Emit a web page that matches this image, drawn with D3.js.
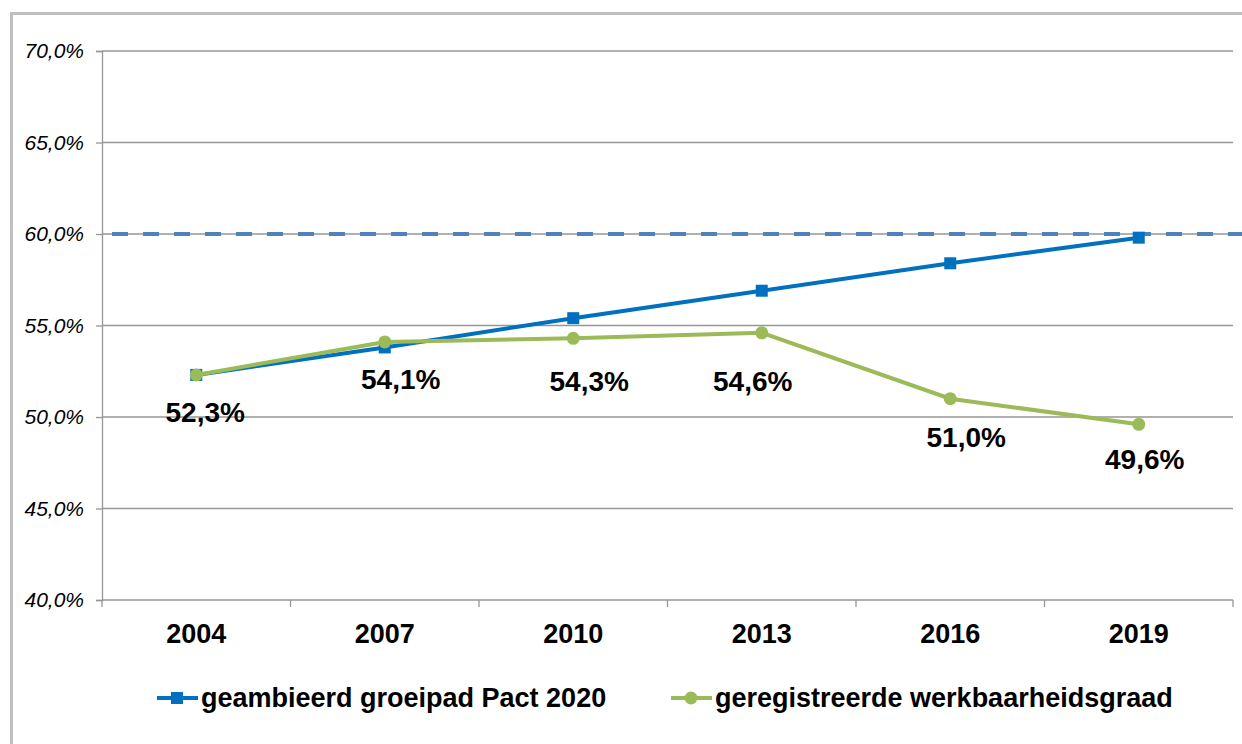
<!DOCTYPE html>
<html>
<head>
<meta charset="utf-8">
<script src="https://cdn.jsdelivr.net/npm/d3@7"></script>
<style>
  body { margin: 0; background: #fff; }
  svg text { font-family: "Liberation Sans", Arial, sans-serif; }
</style>
</head>
<body>
<svg id="chart" width="1242" height="744"></svg>
<script>
// chart data
const years = ["2004", "2007", "2010", "2013", "2016", "2019"];
const pactValues = [52.3, 53.8, 55.4, 56.9, 58.4, 59.8];
const werkValues = [52.3, 54.1, 54.3, 54.6, 51.0, 49.6];
const targetValue = 60;
const yTicks = [40, 45, 50, 55, 60, 65, 70];
const seriesNames = ["geambieerd groeipad Pact 2020", "geregistreerde werkbaarheidsgraad"];

// label nudges (px) like the dragged labels in the original
const labelDx = [9, 16, 16, -9, 16, 6];
const labelDy = [38, 38, 43, 49, 39, 35];

const blue = "#0070C0";
const green = "#9BBB59";
const dashBlue = "#4F81BD";

const svg = d3.select("#chart");
const margin = { left: 102, right: 1233, top: 51, bottom: 600 };

// outer frame of the chart
svg.append("rect")
    .attr("x", 11.5).attr("y", 13.5)
    .attr("width", 1260).attr("height", 760)
    .attr("fill", "none")
    .attr("stroke", "#bfbfbf")
    .attr("stroke-width", 3);

const x = d3.scaleBand()
    .domain(years)
    .range([margin.left, margin.right]);

const y = d3.scaleLinear()
    .domain([40, 70])
    .range([margin.bottom, margin.top]);

// gridlines
svg.append("g")
    .selectAll("line")
    .data(yTicks)
    .enter()
    .append("line")
    .attr("x1", margin.left)
    .attr("x2", margin.right)
    .attr("y1", d => y(d))
    .attr("y2", d => y(d))
    .attr("stroke", "#969696")
    .attr("stroke-width", 1.3);

// y axis
const yAxis = svg.append("g")
    .attr("transform", `translate(${margin.left},0)`)
    .call(d3.axisLeft(y)
        .tickValues(yTicks)
        .tickSize(6)
        .tickPadding(12)
        .tickFormat(d => d3.format(".1f")(d).replace(".", ",") + "%"));
yAxis.select(".domain").attr("stroke", "#969696").attr("stroke-width", 1.3);
yAxis.selectAll(".tick line").attr("stroke", "#969696").attr("stroke-width", 1.3);
yAxis.selectAll(".tick text")
    .attr("font-size", 21)
    .attr("font-style", "italic")
    .attr("fill", "#000");

// x axis with ticks between categories
const xAxis = svg.append("g")
    .attr("transform", `translate(0,${margin.bottom})`)
    .call(d3.axisBottom(x).tickSize(0).tickPadding(24));
xAxis.select(".domain").remove();
xAxis.selectAll(".tick text")
    .attr("font-size", 27)
    .attr("font-weight", "bold")
    .attr("fill", "#000");

svg.append("g")
    .selectAll("line")
    .data(years.concat(["end"]))
    .enter()
    .append("line")
    .attr("x1", (d, i) => margin.left + i * x.step())
    .attr("x2", (d, i) => margin.left + i * x.step())
    .attr("y1", margin.bottom)
    .attr("y2", margin.bottom + 7)
    .attr("stroke", "#969696")
    .attr("stroke-width", 1.3);

// target 60% dashed line
svg.append("line")
    .attr("x1", margin.left)
    .attr("x2", 1242)
    .attr("y1", y(targetValue))
    .attr("y2", y(targetValue))
    .attr("stroke", dashBlue)
    .attr("stroke-width", 4)
    .attr("stroke-dasharray", "16,15")
    .attr("stroke-dashoffset", -10);

const cx = d => x(d) + x.bandwidth() / 2;

const line = d3.line()
    .x((d, i) => cx(years[i]))
    .y(d => y(d));

// blue series
svg.append("path")
    .datum(pactValues)
    .attr("d", line)
    .attr("fill", "none")
    .attr("stroke", blue)
    .attr("stroke-width", 4);

svg.append("g")
    .selectAll("rect")
    .data(pactValues)
    .enter()
    .append("rect")
    .attr("x", (d, i) => cx(years[i]) - 6)
    .attr("y", d => y(d) - 6)
    .attr("width", 12)
    .attr("height", 12)
    .attr("fill", blue);

// green series
svg.append("path")
    .datum(werkValues)
    .attr("d", line)
    .attr("fill", "none")
    .attr("stroke", green)
    .attr("stroke-width", 4);

svg.append("g")
    .selectAll("circle")
    .data(werkValues)
    .enter()
    .append("circle")
    .attr("cx", (d, i) => cx(years[i]))
    .attr("cy", d => y(d))
    .attr("r", 6.5)
    .attr("fill", green);

// value labels
svg.append("g")
    .selectAll("text")
    .data(werkValues)
    .enter()
    .append("text")
    .text(d => d3.format(".1f")(d).replace(".", ",") + "%")
    .attr("x", (d, i) => cx(years[i]) + labelDx[i])
    .attr("y", (d, i) => y(d) + labelDy[i])
    .attr("text-anchor", "middle")
    .attr("dominant-baseline", "central")
    .attr("font-size", 28)
    .attr("font-weight", "bold")
    .attr("fill", "#000");

// legend
const legendY = 698;
const legendItems = [
    { name: seriesNames[0], color: blue, x: 157, shape: "square" },
    { name: seriesNames[1], color: green, x: 671, shape: "circle" }
];

legendItems.forEach(item => {
    const g = svg.append("g");
    g.append("line")
        .attr("x1", item.x).attr("x2", item.x + 41)
        .attr("y1", legendY).attr("y2", legendY)
        .attr("stroke", item.color)
        .attr("stroke-width", 4);
    if (item.shape === "square") {
        g.append("rect")
            .attr("x", item.x + 14).attr("y", legendY - 6)
            .attr("width", 12).attr("height", 12)
            .attr("fill", item.color);
    } else {
        g.append("circle")
            .attr("cx", item.x + 20).attr("cy", legendY)
            .attr("r", 6.5)
            .attr("fill", item.color);
    }
    g.append("text")
        .attr("x", item.x + 44)
        .attr("y", legendY)
        .attr("dominant-baseline", "central")
        .attr("font-size", 27)
        .attr("font-weight", "bold")
        .attr("fill", "#000")
        .text(item.name);
});
</script>
</body>
</html>
